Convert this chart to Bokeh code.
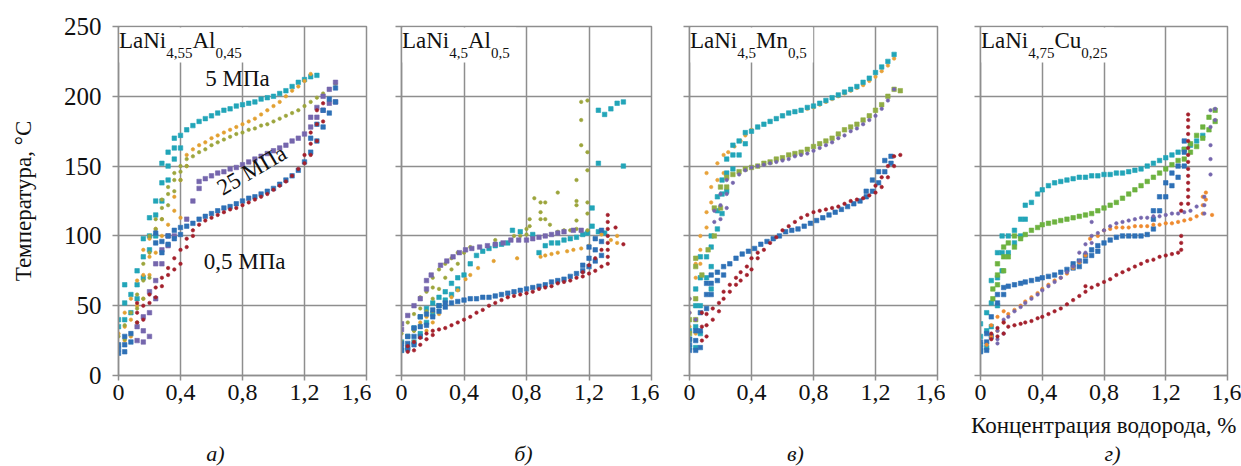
from bokeh.plotting import figure
from bokeh.layouts import row, column
from bokeh.models import FixedTicker, Label, BoxAnnotation, ColumnDataSource
from bokeh.embed import file_html
from bokeh.resources import INLINE

# ---------------- texts / ticks ----------------
x_ticks = [0, 0.4, 0.8, 1.2, 1.6]
x_tick_labels = ["0", "0,4", "0,8", "1,2", "1,6"]
y_ticks = [0, 50, 100, 150, 200, 250]
y_tick_labels = ["0", "50", "100", "150", "200", "250"]
y_title = "Температура, °C"
x_title = "Концентрация водорода, %"
panel_letters = ["а)", "б)", "в)", "г)"]
alloy_a = ["LaNi", "4,55", "Al", "0,45"]
alloy_b = ["LaNi", "4,5", "Al", "0,5"]
alloy_c = ["LaNi", "4,5", "Mn", "0,5"]
alloy_d = ["LaNi", "4,75", "Cu", "0,25"]
pressure_labels = ["5 МПа", "25 МПа", "0,5 МПа"]

# ---------------- data: [x, y1, y2, ...] ----------------
a_teal = [[0, 35, 40], [0.04, 40, 52, 65], [0.08, 45, 58], [0.12, 55, 65, 75], [0.16, 70, 85, 98],
          [0.2, 90, 100, 113], [0.24, 100, 115, 125], [0.28, 125, 138, 152], [0.32, 140, 150, 160],
          [0.36, 155, 163, 170], [0.4, 163, 172], [0.44, 176], [0.48, 179], [0.52, 182], [0.56, 184],
          [0.6, 186], [0.64, 188], [0.68, 190], [0.72, 191], [0.76, 193], [0.8, 194], [0.84, 195],
          [0.88, 196], [0.92, 198], [0.96, 199], [1.0, 200], [1.04, 202], [1.08, 204], [1.12, 207],
          [1.16, 210], [1.2, 212], [1.24, 214], [1.28, 215]]
a_orange = [[0, 22, 30], [0.04, 25, 35, 45], [0.08, 28, 40, 55], [0.12, 35, 50, 68], [0.16, 55, 72, 90],
            [0.2, 72, 85, 98], [0.24, 88, 105], [0.28, 100, 112], [0.32, 108], [0.36, 118, 128],
            [0.4, 113, 140], [0.44, 150, 158], [0.48, 162], [0.52, 165], [0.56, 167], [0.6, 170],
            [0.64, 172], [0.68, 174], [0.72, 176], [0.76, 178], [0.8, 180], [0.84, 182], [0.88, 184],
            [0.92, 187], [0.96, 190], [1.0, 193], [1.04, 196], [1.08, 200], [1.12, 204], [1.16, 207],
            [1.2, 211], [1.24, 216]]
a_olive = [[0, 22, 28], [0.04, 26, 36], [0.08, 30, 45], [0.12, 38, 48, 58], [0.16, 55, 68, 80],
           [0.2, 70, 88, 100], [0.24, 95, 105, 112], [0.28, 112, 120, 126], [0.32, 122, 130, 135],
           [0.36, 132, 140, 145], [0.4, 140, 146, 150], [0.44, 150, 155], [0.48, 157], [0.52, 160],
           [0.56, 162], [0.6, 165], [0.64, 167], [0.68, 169], [0.72, 171], [0.76, 173], [0.8, 174],
           [0.84, 176], [0.88, 177], [0.92, 179], [0.96, 180], [1.0, 182], [1.04, 184], [1.08, 186],
           [1.12, 188], [1.16, 190], [1.2, 193], [1.24, 196], [1.28, 199], [1.32, 202], [1.36, 205],
           [1.4, 209]]
a_purple = [[0.12, 25, 35], [0.16, 24, 32, 42], [0.2, 28, 45, 60], [0.24, 55, 68, 80], [0.28, 80, 90],
            [0.32, 93, 100], [0.36, 100], [0.44, 112], [0.48, 125], [0.52, 134, 139], [0.56, 141],
            [0.6, 143], [0.64, 145], [0.68, 146], [0.72, 148], [0.76, 149], [0.8, 151], [0.84, 153],
            [0.88, 155], [0.92, 157], [0.96, 159], [1.0, 161], [1.04, 163], [1.08, 165], [1.12, 168],
            [1.16, 170], [1.2, 173], [1.24, 178, 185], [1.28, 185, 192], [1.32, 190, 200],
            [1.36, 195, 205], [1.4, 196, 210]]
a_blue = [[0, 16, 19, 22], [0.04, 17, 22, 28], [0.08, 24, 30], [0.24, 95, 102], [0.28, 88, 96],
          [0.32, 94, 100], [0.36, 98, 104], [0.4, 101, 106], [0.44, 107], [0.48, 109], [0.52, 112],
          [0.56, 114], [0.6, 116], [0.64, 118], [0.68, 120], [0.72, 121], [0.76, 123], [0.8, 125],
          [0.84, 127], [0.88, 128], [0.92, 130], [0.96, 132], [1.0, 134], [1.04, 137], [1.08, 140],
          [1.12, 143], [1.16, 147], [1.2, 153], [1.24, 160, 170], [1.28, 168, 180], [1.32, 178, 190],
          [1.36, 188, 198], [1.4, 196, 206]]
a_red = [[0.12, 38, 45, 52], [0.16, 40, 50], [0.2, 52, 58], [0.24, 56, 63], [0.28, 64, 70], [0.32, 72, 77],
         [0.36, 76, 84], [0.4, 80, 90], [0.44, 92, 98], [0.48, 100, 104], [0.52, 108], [0.56, 111],
         [0.6, 113], [0.64, 115], [0.68, 117], [0.72, 119], [0.76, 120], [0.8, 122], [0.84, 124],
         [0.88, 126], [0.92, 128], [0.96, 130], [1.0, 133], [1.04, 136], [1.08, 139], [1.12, 143],
         [1.16, 148], [1.2, 152, 158], [1.24, 158, 166, 174], [1.28, 168, 180, 190], [1.32, 182, 195]]

b_teal = [[0, 18, 24], [0.04, 20, 28], [0.08, 24, 34], [0.12, 30, 42], [0.16, 38, 48], [0.2, 44, 52],
          [0.24, 50, 56], [0.28, 54, 60], [0.32, 58, 66], [0.36, 62, 70], [0.4, 72], [0.44, 80],
          [0.48, 86], [0.52, 89], [0.56, 91], [0.6, 93], [0.64, 94], [0.68, 95], [0.71, 104],
          [0.76, 103], [0.84, 101], [0.88, 88], [0.92, 93], [0.96, 95], [1.0, 95], [1.04, 97],
          [1.08, 98], [1.12, 99], [1.16, 101], [1.19, 102], [1.22, 107, 120], [1.26, 103, 152, 190],
          [1.3, 102, 187], [1.34, 191], [1.38, 195], [1.42, 150, 196]]
b_orange = [[0.04, 22, 28], [0.08, 24, 32], [0.12, 28, 38], [0.16, 32, 42], [0.2, 38, 46], [0.24, 44, 50],
            [0.28, 52], [0.32, 56], [0.36, 61], [0.41, 69], [0.44, 72], [0.49, 77], [0.59, 82],
            [0.74, 84], [0.89, 85], [0.92, 86], [0.96, 87], [1.0, 88], [1.06, 89], [1.1, 90],
            [1.15, 91], [1.2, 93], [1.24, 98], [1.28, 101], [1.34, 97], [1.38, 95, 100]]
b_olive = [[0, 24, 30], [0.04, 28, 38], [0.08, 32, 44], [0.12, 36, 48, 56], [0.16, 46, 60],
           [0.2, 55, 63, 70], [0.24, 62, 76], [0.28, 70, 80], [0.32, 76, 84], [0.36, 80, 88],
           [0.4, 88], [0.44, 92], [0.6, 97], [0.72, 100], [0.76, 100], [0.8, 101, 105], [0.82, 107, 112],
           [0.85, 127], [0.89, 112, 117, 124], [0.92, 100, 112, 124], [0.95, 108], [1.0, 103, 131],
           [1.04, 104], [1.08, 104], [1.12, 105, 111, 122, 125, 140], [1.15, 165, 183, 196],
           [1.19, 104, 116, 124, 147, 160, 197]]
b_purple = [[0, 33, 37], [0.04, 43], [0.08, 50], [0.12, 55], [0.16, 62, 68], [0.19, 72], [0.25, 79],
            [0.29, 82], [0.33, 85], [0.37, 88], [0.41, 90], [0.45, 91], [0.5, 92], [0.55, 93],
            [0.6, 94], [0.65, 95], [0.7, 97], [0.75, 97], [0.8, 97], [0.84, 98], [0.88, 99],
            [0.92, 100], [0.96, 101], [1.0, 102], [1.04, 103], [1.1, 104], [1.15, 104]]
b_blue = [[0, 18, 20, 23], [0.04, 19, 23, 28], [0.08, 22, 28, 34], [0.12, 28, 35, 42], [0.16, 36, 44],
          [0.2, 42, 47], [0.24, 46, 50], [0.28, 49, 52], [0.32, 52], [0.36, 53], [0.4, 54], [0.44, 55],
          [0.48, 55], [0.52, 56], [0.56, 56], [0.6, 57], [0.64, 58], [0.68, 59], [0.72, 60], [0.76, 61],
          [0.8, 62], [0.84, 63], [0.88, 64], [0.92, 65], [0.96, 67], [1.0, 68], [1.04, 69], [1.08, 71],
          [1.12, 73], [1.16, 75, 79], [1.2, 78, 84, 92], [1.24, 82, 90, 98], [1.28, 86, 96, 104]]
b_red = [[0.04, 17, 21], [0.08, 18, 24], [0.12, 22, 27], [0.16, 26, 30], [0.2, 29, 32], [0.24, 33],
         [0.28, 34], [0.32, 36], [0.36, 38], [0.4, 40], [0.44, 42], [0.48, 45], [0.52, 47], [0.56, 50],
         [0.6, 52], [0.64, 54], [0.68, 56], [0.72, 57], [0.76, 58], [0.8, 59], [0.84, 60], [0.88, 62],
         [0.92, 63], [0.96, 64], [1.0, 66], [1.04, 67], [1.08, 68], [1.12, 70], [1.16, 71, 74],
         [1.2, 73, 79], [1.24, 75, 84], [1.28, 78, 90], [1.32, 80, 85, 90, 95, 100, 105, 110, 115],
         [1.37, 106], [1.42, 94]]

c_teal = [[0, 20, 26, 32], [0.04, 20, 35, 50, 62], [0.07, 30, 50, 70, 85], [0.11, 70, 85],
          [0.14, 62, 78, 92, 100], [0.18, 105, 118, 128], [0.21, 116, 130, 140], [0.24, 132, 145, 155],
          [0.28, 148, 158, 165], [0.32, 158, 168], [0.36, 166, 174], [0.4, 175], [0.44, 178],
          [0.48, 180], [0.52, 182], [0.56, 184], [0.6, 186], [0.64, 188], [0.68, 189], [0.72, 190],
          [0.76, 192], [0.8, 193], [0.84, 195], [0.88, 197], [0.92, 199], [0.96, 201], [1.0, 203],
          [1.04, 205], [1.08, 207], [1.12, 210], [1.16, 213], [1.2, 217], [1.24, 221], [1.28, 225],
          [1.32, 230]]
c_orange = [[0, 25, 35, 45, 55], [0.04, 30, 50, 70, 80], [0.07, 80, 90, 100], [0.11, 106, 117, 145],
            [0.14, 124, 135], [0.18, 140, 152], [0.22, 145, 158], [0.25, 160], [0.29, 164], [0.33, 168],
            [0.36, 172], [0.4, 176], [0.44, 178], [0.48, 180], [0.52, 182], [0.56, 184], [0.6, 186],
            [0.64, 188], [0.68, 189], [0.72, 190], [0.76, 191], [0.8, 192], [0.84, 194], [0.88, 196],
            [0.92, 198], [0.96, 200], [1.0, 202], [1.04, 204], [1.08, 206], [1.12, 208], [1.16, 211],
            [1.2, 214], [1.24, 218], [1.28, 222], [1.32, 227]]
c_olive = [[0, 30, 40], [0.04, 40, 55, 78, 84], [0.08, 72], [0.12, 90], [0.16, 100, 120], [0.2, 120, 135],
           [0.24, 135, 142], [0.28, 144], [0.32, 146], [0.36, 148], [0.4, 149], [0.44, 150], [0.48, 152],
           [0.52, 153], [0.56, 155], [0.6, 156], [0.64, 158], [0.68, 159], [0.72, 160], [0.76, 162],
           [0.8, 164], [0.84, 166], [0.88, 168], [0.92, 170], [0.96, 173], [1.0, 176], [1.04, 178],
           [1.08, 180], [1.12, 183], [1.16, 186], [1.2, 190], [1.24, 194], [1.28, 200], [1.32, 205],
           [1.36, 204]]
c_purple = [[0, 45, 55], [0.04, 40], [0.16, 110, 118], [0.2, 112, 122, 130], [0.24, 120, 130, 140],
            [0.28, 138], [0.32, 144], [0.36, 147], [0.4, 149], [0.44, 150], [0.48, 151], [0.52, 152],
            [0.56, 153], [0.6, 154], [0.64, 155], [0.68, 157], [0.72, 158], [0.76, 159], [0.8, 161],
            [0.84, 163], [0.88, 165], [0.92, 167], [0.96, 170], [1.0, 172], [1.04, 175], [1.08, 177],
            [1.12, 180], [1.16, 183], [1.2, 186], [1.24, 191], [1.28, 197], [1.32, 205]]
c_blue = [[0, 18, 22, 26], [0.04, 18, 25, 32], [0.07, 20, 32, 45], [0.11, 48, 58, 66], [0.14, 58, 66, 72],
          [0.18, 68, 74], [0.22, 72, 78], [0.26, 80], [0.3, 84], [0.34, 87], [0.38, 89], [0.42, 91],
          [0.46, 94], [0.5, 96], [0.54, 98], [0.58, 100], [0.62, 103], [0.66, 104], [0.7, 105],
          [0.74, 107], [0.78, 109], [0.82, 111], [0.86, 113], [0.9, 115], [0.94, 117], [0.98, 119],
          [1.02, 121], [1.06, 123], [1.1, 125], [1.14, 128, 132], [1.18, 132, 140], [1.22, 138, 146],
          [1.26, 146, 154], [1.3, 152, 157]]
c_red = [[0.08, 25, 35, 45], [0.11, 28, 36, 44], [0.15, 40, 48], [0.19, 46, 52], [0.22, 55, 60],
         [0.26, 60, 65], [0.3, 65, 70], [0.33, 68, 74], [0.37, 72, 78], [0.4, 76, 84], [0.44, 84, 88],
         [0.48, 90], [0.52, 95], [0.56, 99], [0.6, 104], [0.64, 107], [0.68, 110], [0.72, 113],
         [0.76, 115], [0.8, 117], [0.84, 118], [0.88, 119], [0.92, 120], [0.96, 121], [1.0, 123],
         [1.04, 125], [1.08, 126], [1.12, 127], [1.16, 129], [1.2, 131, 136], [1.24, 135, 142],
         [1.28, 142, 150], [1.32, 150, 157], [1.36, 158]]

d_teal = [[0, 18, 22, 28, 37], [0.04, 20, 32, 45], [0.07, 35, 52, 68], [0.11, 50, 70, 88],
          [0.14, 75, 88, 100], [0.18, 88, 100], [0.22, 95, 104], [0.26, 100, 112], [0.29, 112, 122],
          [0.33, 124], [0.37, 130], [0.4, 133], [0.44, 136], [0.48, 138], [0.52, 139], [0.56, 140],
          [0.6, 141], [0.64, 142], [0.68, 142], [0.72, 143], [0.76, 143], [0.8, 144], [0.84, 144],
          [0.88, 145], [0.92, 145], [0.96, 146], [1.0, 147], [1.04, 148], [1.08, 150], [1.12, 152],
          [1.16, 154], [1.2, 156], [1.24, 158], [1.28, 160], [1.32, 162], [1.36, 165], [1.4, 168],
          [1.44, 172]]
d_green = [[0.08, 55, 62], [0.11, 65, 72, 80], [0.15, 75, 85, 92], [0.18, 85, 95], [0.22, 92, 100],
           [0.26, 98], [0.29, 101], [0.33, 104], [0.37, 106], [0.4, 108], [0.44, 109], [0.48, 110],
           [0.52, 111], [0.56, 112], [0.6, 113], [0.64, 114], [0.68, 115], [0.72, 116], [0.76, 118],
           [0.8, 120], [0.84, 122], [0.88, 124], [0.92, 127], [0.96, 130], [1.0, 133], [1.04, 136],
           [1.08, 139], [1.12, 142], [1.16, 145], [1.2, 148], [1.24, 151], [1.28, 154], [1.32, 155, 162],
           [1.36, 160, 166], [1.4, 164, 172], [1.44, 170, 178], [1.48, 176, 185], [1.52, 182, 190]]
d_blue = [[0, 17, 20, 24], [0.04, 18, 24, 30], [0.07, 28, 42], [0.11, 52, 58], [0.15, 58, 63], [0.18, 64],
          [0.22, 65], [0.26, 66], [0.29, 67], [0.33, 68], [0.37, 69], [0.4, 70], [0.44, 71], [0.48, 72],
          [0.52, 74], [0.56, 76], [0.6, 77, 80], [0.64, 78, 82], [0.68, 82, 86], [0.72, 86, 90],
          [0.76, 89, 93], [0.8, 95], [0.84, 97], [0.88, 99], [0.92, 100], [0.96, 100], [1.0, 100],
          [1.04, 100], [1.08, 101], [1.12, 105, 112, 118], [1.16, 118, 128], [1.2, 128, 138],
          [1.24, 136, 145], [1.28, 142, 150], [1.32, 150, 160, 168]]
d_orange = [[0.04, 22], [0.07, 28, 36], [0.11, 32, 42], [0.15, 38, 46], [0.18, 44], [0.22, 47], [0.26, 50],
            [0.29, 53], [0.33, 56], [0.37, 59], [0.4, 62], [0.44, 65], [0.48, 68], [0.52, 70], [0.56, 73],
            [0.6, 77], [0.64, 81], [0.68, 86], [0.71, 98], [0.76, 100], [0.8, 104], [0.84, 105],
            [0.88, 106], [0.92, 106], [0.96, 106], [1.0, 107], [1.04, 107], [1.08, 107], [1.12, 108],
            [1.16, 108], [1.2, 109], [1.24, 109], [1.28, 110], [1.32, 111], [1.36, 112], [1.4, 114],
            [1.44, 116, 122, 128], [1.46, 126, 131], [1.5, 115]]
d_purple = [[0.11, 23, 26, 32], [0.15, 30, 40], [0.18, 42], [0.22, 46], [0.26, 49], [0.29, 52], [0.33, 55],
            [0.37, 58], [0.4, 61], [0.44, 64], [0.48, 67], [0.52, 70], [0.56, 74], [0.6, 78],
            [0.64, 82, 88], [0.68, 88, 94], [0.72, 95, 100, 110], [0.76, 102], [0.8, 104], [0.84, 107],
            [0.88, 109], [0.92, 110], [0.96, 111], [1.0, 112], [1.04, 113], [1.08, 113], [1.12, 114],
            [1.16, 114], [1.2, 115], [1.24, 116], [1.28, 116], [1.32, 117], [1.36, 118], [1.4, 121],
            [1.45, 116, 122, 128], [1.49, 144, 155, 165, 178, 190], [1.52, 183, 191]]
d_red = [[0.07, 26, 30], [0.11, 28, 34], [0.15, 30, 38], [0.18, 35], [0.22, 36], [0.26, 37], [0.29, 38],
         [0.33, 39], [0.37, 41], [0.4, 42], [0.44, 44], [0.48, 46], [0.52, 48], [0.56, 51], [0.6, 54],
         [0.64, 57], [0.68, 60, 64], [0.72, 63], [0.76, 65], [0.8, 67], [0.84, 69], [0.88, 72],
         [0.92, 74], [0.96, 76], [1.0, 78], [1.04, 80], [1.08, 82], [1.12, 83], [1.16, 85], [1.2, 86],
         [1.24, 87], [1.28, 88], [1.3, 90, 95, 100, 118, 123],
         [1.345, 123, 128, 133, 138, 143, 148, 153, 158, 163, 168, 173, 178, 183, 187]]

# ---------------- styling ----------------
TEAL, BLUE, PURPLE, RED = "#22A5B8", "#2E70B6", "#7566AD", "#A3202C"
GRID = "#8e8e8e"
INK = "#111111"
FONT = "Liberation Serif"
FIG_H = 411
TOP, BOTTOM = 26, 36
FRAME_H = FIG_H - TOP - BOTTOM
CHAR_W = {"L": .611, "a": .444, "N": .722, "i": .278, "A": .722, "l": .278, "M": .889, "n": .5,
          "C": .667, "u": .5, ",": .25}


def text_w(s, size):
    return sum(CHAR_W.get(ch, 0.5) for ch in s) * size


def flatten(series):
    xs, ys = [], []
    for r in series:
        for y in r[1:]:
            xs.append(r[0])
            ys.append(y)
    return dict(x=xs, y=ys)


def make_panel(width, left, right, series, alloy, show_y):
    p = figure(width=width, height=FIG_H, x_range=(0, 1.6), y_range=(0, 250), title=None,
               output_backend="svg", toolbar_location=None,
               min_border_left=left, min_border_right=right,
               min_border_top=TOP, min_border_bottom=BOTTOM)
    p.background_fill_color = "white"
    p.border_fill_color = "white"
    p.outline_line_color = GRID
    p.outline_line_width = 1.5
    p.xaxis.ticker = FixedTicker(ticks=x_ticks)
    p.yaxis.ticker = FixedTicker(ticks=y_ticks)
    p.xgrid.ticker = FixedTicker(ticks=x_ticks)
    p.ygrid.ticker = FixedTicker(ticks=y_ticks)
    p.xaxis.major_label_overrides = dict(zip(x_ticks, x_tick_labels))
    if show_y:
        p.yaxis.major_label_overrides = dict(zip(y_ticks, y_tick_labels))
    else:
        p.yaxis.major_label_overrides = {t: "" for t in y_ticks}
    for g in (p.xgrid, p.ygrid):
        g.grid_line_color = GRID
        g.grid_line_width = 1.5
    for ax in (p.xaxis, p.yaxis):
        ax.axis_line_color = GRID
        ax.axis_line_width = 1.5
        ax.major_tick_line_color = GRID
        ax.major_tick_line_width = 1.5
        ax.major_tick_in = 0
        ax.minor_tick_line_color = None
        ax.major_label_text_font = FONT
        ax.major_label_text_color = INK
    p.xaxis.major_tick_out = 5
    p.xaxis.major_label_standoff = 4
    p.xaxis.major_label_text_font_size = "24px"
    p.yaxis.major_tick_out = 6
    p.yaxis.major_label_standoff = 11
    p.yaxis.major_label_text_font_size = "25px"
    if show_y:
        p.yaxis.axis_label = y_title
        p.yaxis.axis_label_text_font = FONT
        p.yaxis.axis_label_text_font_style = "normal"
        p.yaxis.axis_label_text_font_size = "23px"
        p.yaxis.axis_label_text_color = INK
        p.yaxis.axis_label_standoff = 25

    for data, color, marker, size in series:
        p.scatter("x", "y", source=ColumnDataSource(flatten(data)), marker=marker, size=size,
                  fill_color=color, line_color=color, line_width=0.6)

    # alloy label in a white box (text anchored at its middle)
    ppu_x = (width - left - right) / 1.6
    ppu_y = FRAME_H / 250.0
    big, small = 23, 15
    total = text_w(alloy[0], big) + text_w(alloy[1], small) + text_w(alloy[2], big) + text_w(alloy[3], small)
    p.add_layout(BoxAnnotation(left=1.0 / ppu_x, right=(total + 7) / ppu_x,
                               top=250 - 1.0 / ppu_y, bottom=250 - 36 / ppu_y,
                               fill_color="white", fill_alpha=1.0, line_color=None))
    off = 0.5
    for i, part in enumerate(alloy):
        sz = big if i % 2 == 0 else small
        p.add_layout(Label(x=0, y=250, x_offset=off, y_offset=-13.5 if i % 2 == 0 else -26,
                           text=part, text_font=FONT, text_font_size=f"{sz}px",
                           text_color=INK, text_baseline="middle", text_align="left"))
        off += text_w(part, sz)
    return p


pa = make_panel(371, 118, 5,
                [(a_teal, TEAL, "square", 4.5), (a_orange, "#E2A030", "circle", 3.5),
                 (a_olive, "#9CA53C", "circle", 3.5), (a_purple, PURPLE, "square", 4.5),
                 (a_blue, BLUE, "square", 4.5), (a_red, RED, "circle", 3.5)],
                alloy_a, True)
pa.add_layout(Label(x=0.56, y=213, text=pressure_labels[0], text_font=FONT, text_font_size="23px",
                    text_color=INK, text_baseline="middle"))
pa.add_layout(Label(x=0.86, y=147, text=pressure_labels[1], text_font=FONT, text_font_size="23px",
                    text_color=INK, text_align="center", text_baseline="middle", angle=0.53))
pa.add_layout(Label(x=0.55, y=82, text=pressure_labels[2], text_font=FONT, text_font_size="23px",
                    text_color=INK, text_baseline="middle"))

pb = make_panel(288, 30, 8,
                [(b_teal, TEAL, "square", 4.5), (b_orange, "#E2A030", "circle", 3.5),
                 (b_olive, "#9CA53C", "circle", 3.5), (b_purple, PURPLE, "square", 4.5),
                 (b_blue, BLUE, "square", 4.5), (b_red, RED, "circle", 3.5)],
                alloy_b, False)

pc = make_panel(286, 30, 8,
                [(c_orange, "#E8A23A", "circle", 3.5), (c_teal, TEAL, "square", 4.5),
                 (c_olive, "#90AC45", "square", 4.5), (c_purple, PURPLE, "circle", 3.5),
                 (c_blue, BLUE, "square", 4.5), (c_red, RED, "circle", 3.5)],
                alloy_c, False)

pd_ = make_panel(296, 35, 14,
                 [(d_teal, TEAL, "square", 4.5), (d_green, "#6DB23F", "square", 4.5),
                  (d_blue, BLUE, "square", 4.5), (d_orange, "#EE8A2E", "circle", 3.5),
                  (d_purple, PURPLE, "circle", 3.5), (d_red, RED, "circle", 3.5)],
                 alloy_d, False)

# bottom strip with the axis title and panel letters (pixel coordinates, y measured from strip bottom)
BOT_H = 466 - FIG_H
pbot = figure(width=1241, height=BOT_H, x_range=(0, 1241), y_range=(0, BOT_H), title=None,
              output_backend="svg", toolbar_location=None, min_border=0,
              min_border_left=0, min_border_right=0, min_border_top=0, min_border_bottom=0,
              x_axis_location=None, y_axis_location=None)
pbot.grid.visible = False
pbot.outline_line_color = None
pbot.background_fill_color = "white"
pbot.border_fill_color = "white"
pbot.add_layout(Label(x=1236, y=466 - 425, text=x_title, text_font=FONT, text_font_size="23px",
                      text_color=INK, text_align="right", text_baseline="middle"))
for letter, cx in zip(panel_letters, [215, 523, 795, 1112]):
    pbot.add_layout(Label(x=cx, y=466 - 453, text=letter, text_font=FONT, text_font_size="22px",
                          text_font_style="italic", text_color=INK, text_align="center",
                          text_baseline="middle"))

layout = column(row(pa, pb, pc, pd_), pbot)
open("out.html", "w").write(file_html(layout, INLINE))
